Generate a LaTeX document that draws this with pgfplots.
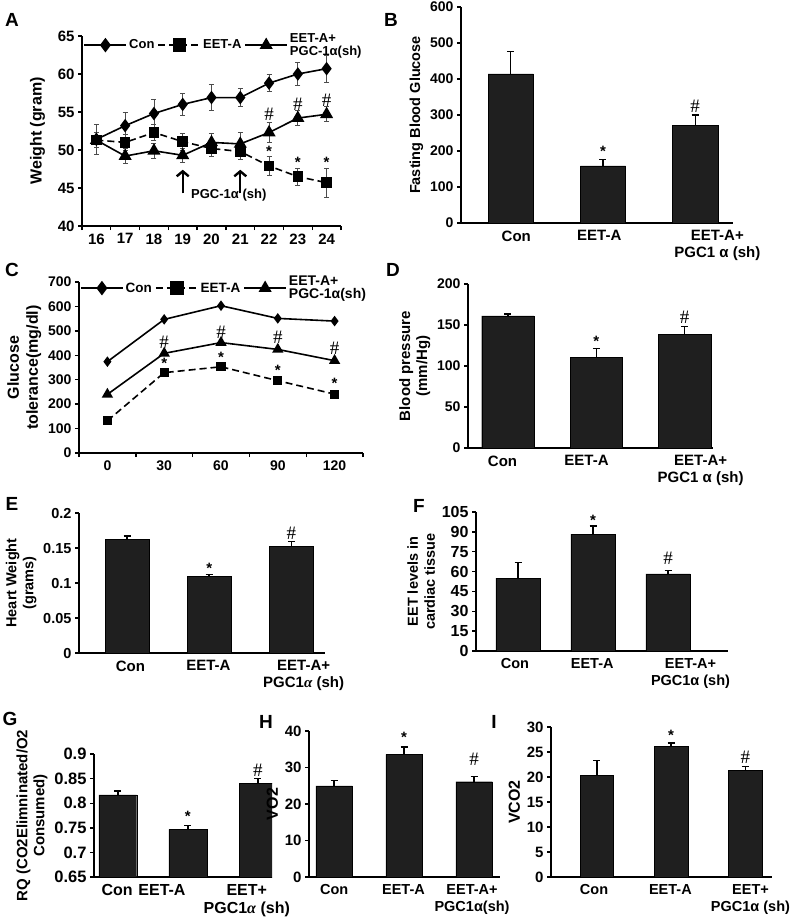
\documentclass[border=0pt]{standalone}
\usepackage{fontspec}
\setmainfont{Liberation Sans}
\newfontfamily\serifit{Liberation Serif}
\usepackage{pgfplots}
\usepackage{pgfplotstable}
\pgfplotsset{compat=1.18}
\usetikzlibrary{arrows.meta}
\newcommand{\fs}[2]{\bfseries\fontsize{#1}{#2}\selectfont}
\newcommand{\hs}{\serifit\fontsize{19}{19}\selectfont\#}
\newcommand{\st}{\fs{15}{15}*}

\pgfplotstableread{
x con ce eet ee pgc pe
16 51.4 2.0 51.3 1.0 51.3 1.0
17 53.2 1.7 51.0 1.1 49.2 1.0
18 54.8 1.8 52.3 1.1 49.9 1.0
19 56.0 1.5 51.1 1.1 49.3 0.9
20 56.9 1.7 50.2 1.0 51.0 1.2
21 56.9 1.2 49.8 1.0 50.8 1.5
22 58.8 1.1 47.9 1.2 52.3 1.3
23 60.0 1.5 46.5 1.1 54.2 1.0
24 60.7 1.8 45.7 1.9 54.7 1.0
}\tabA

\pgfplotstableread{
x con eet pgc
0 374 132 240
30 547 329 408
60 603 353 452
90 551 296 424
120 540 241 378
}\tabC

\pgfplotsset{
  base/.style={scale only axis, axis lines*=left, clip=false, anchor=south west,
    axis line style={line width=1.6pt, black},
    tick style={line width=1.4pt, black},
    tick align=outside, major tick length=4pt, minor tick length=4pt,
    /pgf/number format/assume math mode=true,
    y tick label style={font=\fs{14}{16}},
    x tick label style={font=\fs{15}{17}, align=center},
    ylabel style={font=\fs{14.5}{17}, align=center}},
  bars/.style={base, ybar, major x tick style={draw=none}, ymin=0},
  barplot/.style={fill=black!88, draw=black, line width=0.4pt, bar shift=0pt,
    /pgfplots/error bars/y dir=plus, /pgfplots/error bars/y explicit,
    /pgfplots/error bars/error bar style={line width=1.4pt, black},
    /pgfplots/error bars/error mark options={rotate=90, mark size=3.5pt, line width=1.4pt, black}},
  lineerr/.style={/pgfplots/error bars/y dir=both, /pgfplots/error bars/y explicit,
    /pgfplots/error bars/error bar style={solid, line width=0.8pt, black!70},
    /pgfplots/error bars/error mark options={solid, rotate=90, mark size=2.5pt, line width=0.8pt, black!70}},
  conline/.style={black, line width=1.6pt, mark=diamond*, mark size=5.5pt, mark options={solid}},
  eetline/.style={black, line width=1.6pt, dash pattern=on 7pt off 4pt, mark=square*, mark size=4.5pt, mark options={solid}},
  pgcline/.style={black, line width=1.6pt, mark=triangle*, mark size=6pt, mark options={solid}},
  leg/.style={legend columns=3,
    legend style={draw=none, fill=none, font=\fs{13}{14}, inner sep=0pt,
      /tikz/every even column/.append style={column sep=1pt}},
    legend image code/.code={\draw[mark repeat=2,mark phase=2,##1,mark size=6pt]
      plot coordinates {(0pt,0pt) (21pt,0pt) (42pt,0pt)};}},
}

\begin{document}
\begin{tikzpicture}
\useasboundingbox (0pt,0pt) rectangle (790pt,-921pt);

% ---------- A ----------
\begin{axis}[base, leg, at={(82pt,-226pt)}, width=259pt, height=190pt,
  xmin=15.5, xmax=24.5, ymin=40, ymax=65, ytick={40,45,...,65},
  y tick label style={font=\fs{15}{16}},
  xtick={16,...,24}, minor xtick={15.5,16.5,...,24.5}, major x tick style={draw=none},
  ylabel={Weight (gram)}, ylabel style={font=\fs{16}{18}}, ylabel shift=6pt,
  legend style={at={(axis cs:15.55,63.8)}, anchor=west},
  legend entries={Con, EET-A, {\fs{13}{14}\shortstack[l]{EET-A+\\PGC-1α(sh)}}}]
\addplot[conline, lineerr] table[x=x, y=con, y error=ce] {\tabA};
\addplot[eetline, lineerr] table[x=x, y=eet, y error=ee] {\tabA};
\addplot[pgcline, lineerr] table[x=x, y=pgc, y error=pe] {\tabA};
\node at (axis cs:22,54.7) {\hs};
\node at (axis cs:23,56.0) {\hs};
\node at (axis cs:24,56.6) {\hs};
\node at (axis cs:22,49.8) {\st};
\node at (axis cs:23,48.4) {\st};
\node at (axis cs:24,48.4) {\st};
\draw[line width=2.4pt, -{Straight Barb[length=5pt, width=12pt]}] (axis cs:19,44.3) -- (axis cs:19,47.4);
\draw[line width=2.4pt, -{Straight Barb[length=5pt, width=12pt]}] (axis cs:21,44.3) -- (axis cs:21,47.4);
\node[font=\fs{13}{15}] at (axis cs:20.6,44.0) {PGC-1α (sh)};
\end{axis}

% ---------- B ----------
\begin{axis}[bars, at={(461pt,-223pt)}, width=272pt, height=216pt,
  xmin=-0.54, xmax=2.41, ymax=600, ytick={0,100,...,600}, bar width=0.49,
  xtick={0.06,0.96,2.24}, xticklabels={Con, EET-A, {EET-A+\\PGC1 α (sh)}},
  ylabel={Fasting Blood Glucose}]
\addplot[barplot] table[x=x, y=y, y error=e] {
x y e
0 414 62
1 159 18
2 272 28
};
\node at (axis cs:1,198) {\st};
\node at (axis cs:2,323) {\hs};
\end{axis}

% ---------- C ----------
\begin{axis}[base, leg, at={(79pt,-453pt)}, width=284pt, height=171pt,
  xmin=-15, xmax=135, ymin=0, ymax=700, ytick={0,100,...,700},
  x tick label style={font=\fs{14}{16}},
  xtick={0,30,...,120}, minor xtick={-15,15,...,135}, major x tick style={draw=none},
  ylabel={Glucose\\tolerance(mg/dl)}, ylabel style={font=\fs{16}{19}},
  legend style={at={(axis cs:-14.5,675)}, anchor=west, font=\fs{13.5}{14}},
  legend entries={Con, EET-A, {\fs{14}{15}\shortstack[l]{EET-A+\\PGC-1α(sh)}}}]
\addplot[conline, mark size=4pt] table[x=x, y=con] {\tabC};
\addplot[eetline, mark size=3.8pt] table[x=x, y=eet] {\tabC};
\addplot[pgcline, mark size=5pt] table[x=x, y=pgc] {\tabC};
\node at (axis cs:30,454) {\hs};
\node at (axis cs:60,495) {\hs};
\node at (axis cs:90,475) {\hs};
\node at (axis cs:120,430) {\hs};
\node at (axis cs:30,368) {\st};
\node at (axis cs:60,390) {\st};
\node at (axis cs:90,340) {\st};
\node at (axis cs:120,287) {\st};
\end{axis}

% ---------- D ----------
\begin{axis}[bars, at={(468pt,-448pt)}, width=245pt, height=164pt,
  xmin=-0.45, xmax=2.32, ymax=200, ytick={0,50,...,200}, bar width=0.59,
  xtick={-0.06,0.89,2.18}, xticklabels={Con, EET-A, {EET-A+\\PGC1 α (sh)}},
  ylabel={Blood pressure\\(mm/Hg)}, ylabel style={font=\fs{15}{17}}]
\addplot[barplot] table[x=x, y=y, y error=e] {
x y e
0 161 2.5
1 110.5 11
2 138.5 9.5
};
\node at (axis cs:1,130) {\st};
\node at (axis cs:2,160) {\hs};
\end{axis}

% ---------- E ----------
\begin{axis}[bars, at={(79pt,-653pt)}, width=246pt, height=140pt,
  xmin=-0.585, xmax=2.41, ymax=0.2, ytick={0,0.05,0.1,0.15,0.2},
  yticklabels={0,0.05,0.1,0.15,0.2}, scaled y ticks=false, bar width=0.53,
  y tick label style={font=\fs{14.5}{16}},
  xtick={0.04,0.99,2.15}, xticklabels={Con, EET-A, {EET-A+\\PGC1{\serifit\itshape α} (sh)}},
  ylabel={Heart Weight\\(grams)}]
\addplot[barplot] table[x=x, y=y, y error=e] {
x y e
0 0.162 0.005
1 0.110 0.002
2 0.152 0.007
};
\node at (axis cs:1,0.121) {\st};
\node at (axis cs:2,0.171) {\hs};
\end{axis}

% ---------- F ----------
\begin{axis}[bars, at={(476pt,-651pt)}, width=252pt, height=139pt,
  xmin=-0.56, xmax=2.8, ymax=105, ytick={0,15,...,105}, bar width=0.59,
  y tick label style={font=\fs{16}{17}},
  x tick label style={font=\fs{14.5}{16.5}},
  xtick={-0.04,0.99,2.3}, xticklabels={Con, EET-A, {EET-A+\\PGC1α (sh)}},
  ylabel={EET levels in\\cardiac tissue}]
\addplot[barplot] table[x=x, y=y, y error=e] {
x y e
0 55.0 11.8
1 88.2 6.2
2 58.3 2.5
};
\node at (axis cs:1,99) {\st};
\node at (axis cs:2,70) {\hs};
\end{axis}

% ---------- G ----------
\begin{axis}[bars, clip=true, at={(94pt,-877pt)}, width=178pt, height=123pt,
  xmin=-0.34, xmax=2.2, ymin=0.65, ymax=0.9, ytick={0.65,0.7,0.75,0.8,0.85,0.9},
  yticklabels={0.65,0.7,0.75,0.8,0.85,0.9}, scaled y ticks=false, bar width=0.54,
  y tick label style={font=\fs{16.5}{17}},
  x tick label style={font=\fs{16}{18}},
  xtick={-0.01,0.63,1.84}, xticklabels={Con, EET-A, {EET+\\PGC1{\serifit\itshape α} (sh)}},
  ylabel={RQ (CO2Elimninated/O2\\Consumed)}, ylabel style={font=\fs{15}{17}}]
\addplot[barplot] table[x=x, y=y, y error=e] {
x y e
0 0.817 0.008
1 0.747 0.008
2 0.8405 0.0095
};
\node at (axis cs:1,0.773) {\st};
\node at (axis cs:2,0.866) {\hs};
\end{axis}

% ---------- H ----------
\begin{axis}[bars, at={(309pt,-877pt)}, width=191pt, height=146pt,
  xmin=-0.36, xmax=2.37, ymax=40, ytick={0,10,...,40}, bar width=0.52,
  y tick label style={font=\fs{15}{16}},
  x tick label style={font=\fs{14.5}{16.5}},
  xtick={0,0.99,1.97}, xticklabels={Con, EET-A, {EET-A+\\PGC1α(sh)}},
  ylabel={VO2}, ylabel style={font=\fs{16}{17}}]
\addplot[barplot] table[x=x, y=y, y error=e] {
x y e
0 25.0 1.5
1 33.6 2.0
2 26.1 1.5
};
\node at (axis cs:1,38.2) {\st};
\node at (axis cs:2,32.3) {\hs};
\end{axis}

% ---------- I ----------
\begin{axis}[bars, at={(551pt,-877pt)}, width=221pt, height=150pt,
  xmin=-0.62, xmax=2.36, ymax=30, ytick={0,5,...,30}, bar width=0.45,
  y tick label style={font=\fs{15}{16}},
  x tick label style={font=\fs{14.5}{16.5}},
  xtick={-0.04,0.99,2.07}, xticklabels={Con, EET-A, {EET+\\PGC1α (sh)}},
  ylabel={VCO2}, ylabel style={font=\fs{16}{17}}]
\addplot[barplot] table[x=x, y=y, y error=e] {
x y e
0 20.3 3.0
1 26.1 0.7
2 21.3 0.8
};
\node at (axis cs:1,28.3) {\st};
\node at (axis cs:2,24.0) {\hs};
\end{axis}

% panel letters
\node[font=\fs{19}{19}] at (12pt,-20pt) {A};
\node[font=\fs{19}{19}] at (391pt,-20pt) {B};
\node[font=\fs{19}{19}] at (12pt,-270pt) {C};
\node[font=\fs{19}{19}] at (393pt,-270pt) {D};
\node[font=\fs{19}{19}] at (12pt,-504pt) {E};
\node[font=\fs{19}{19}] at (419pt,-506pt) {F};
\node[font=\fs{19}{19}] at (10pt,-719pt) {G};
\node[font=\fs{19}{19}] at (266pt,-722pt) {H};
\node[font=\fs{19}{19}] at (494pt,-722pt) {I};
\end{tikzpicture}
\end{document}
